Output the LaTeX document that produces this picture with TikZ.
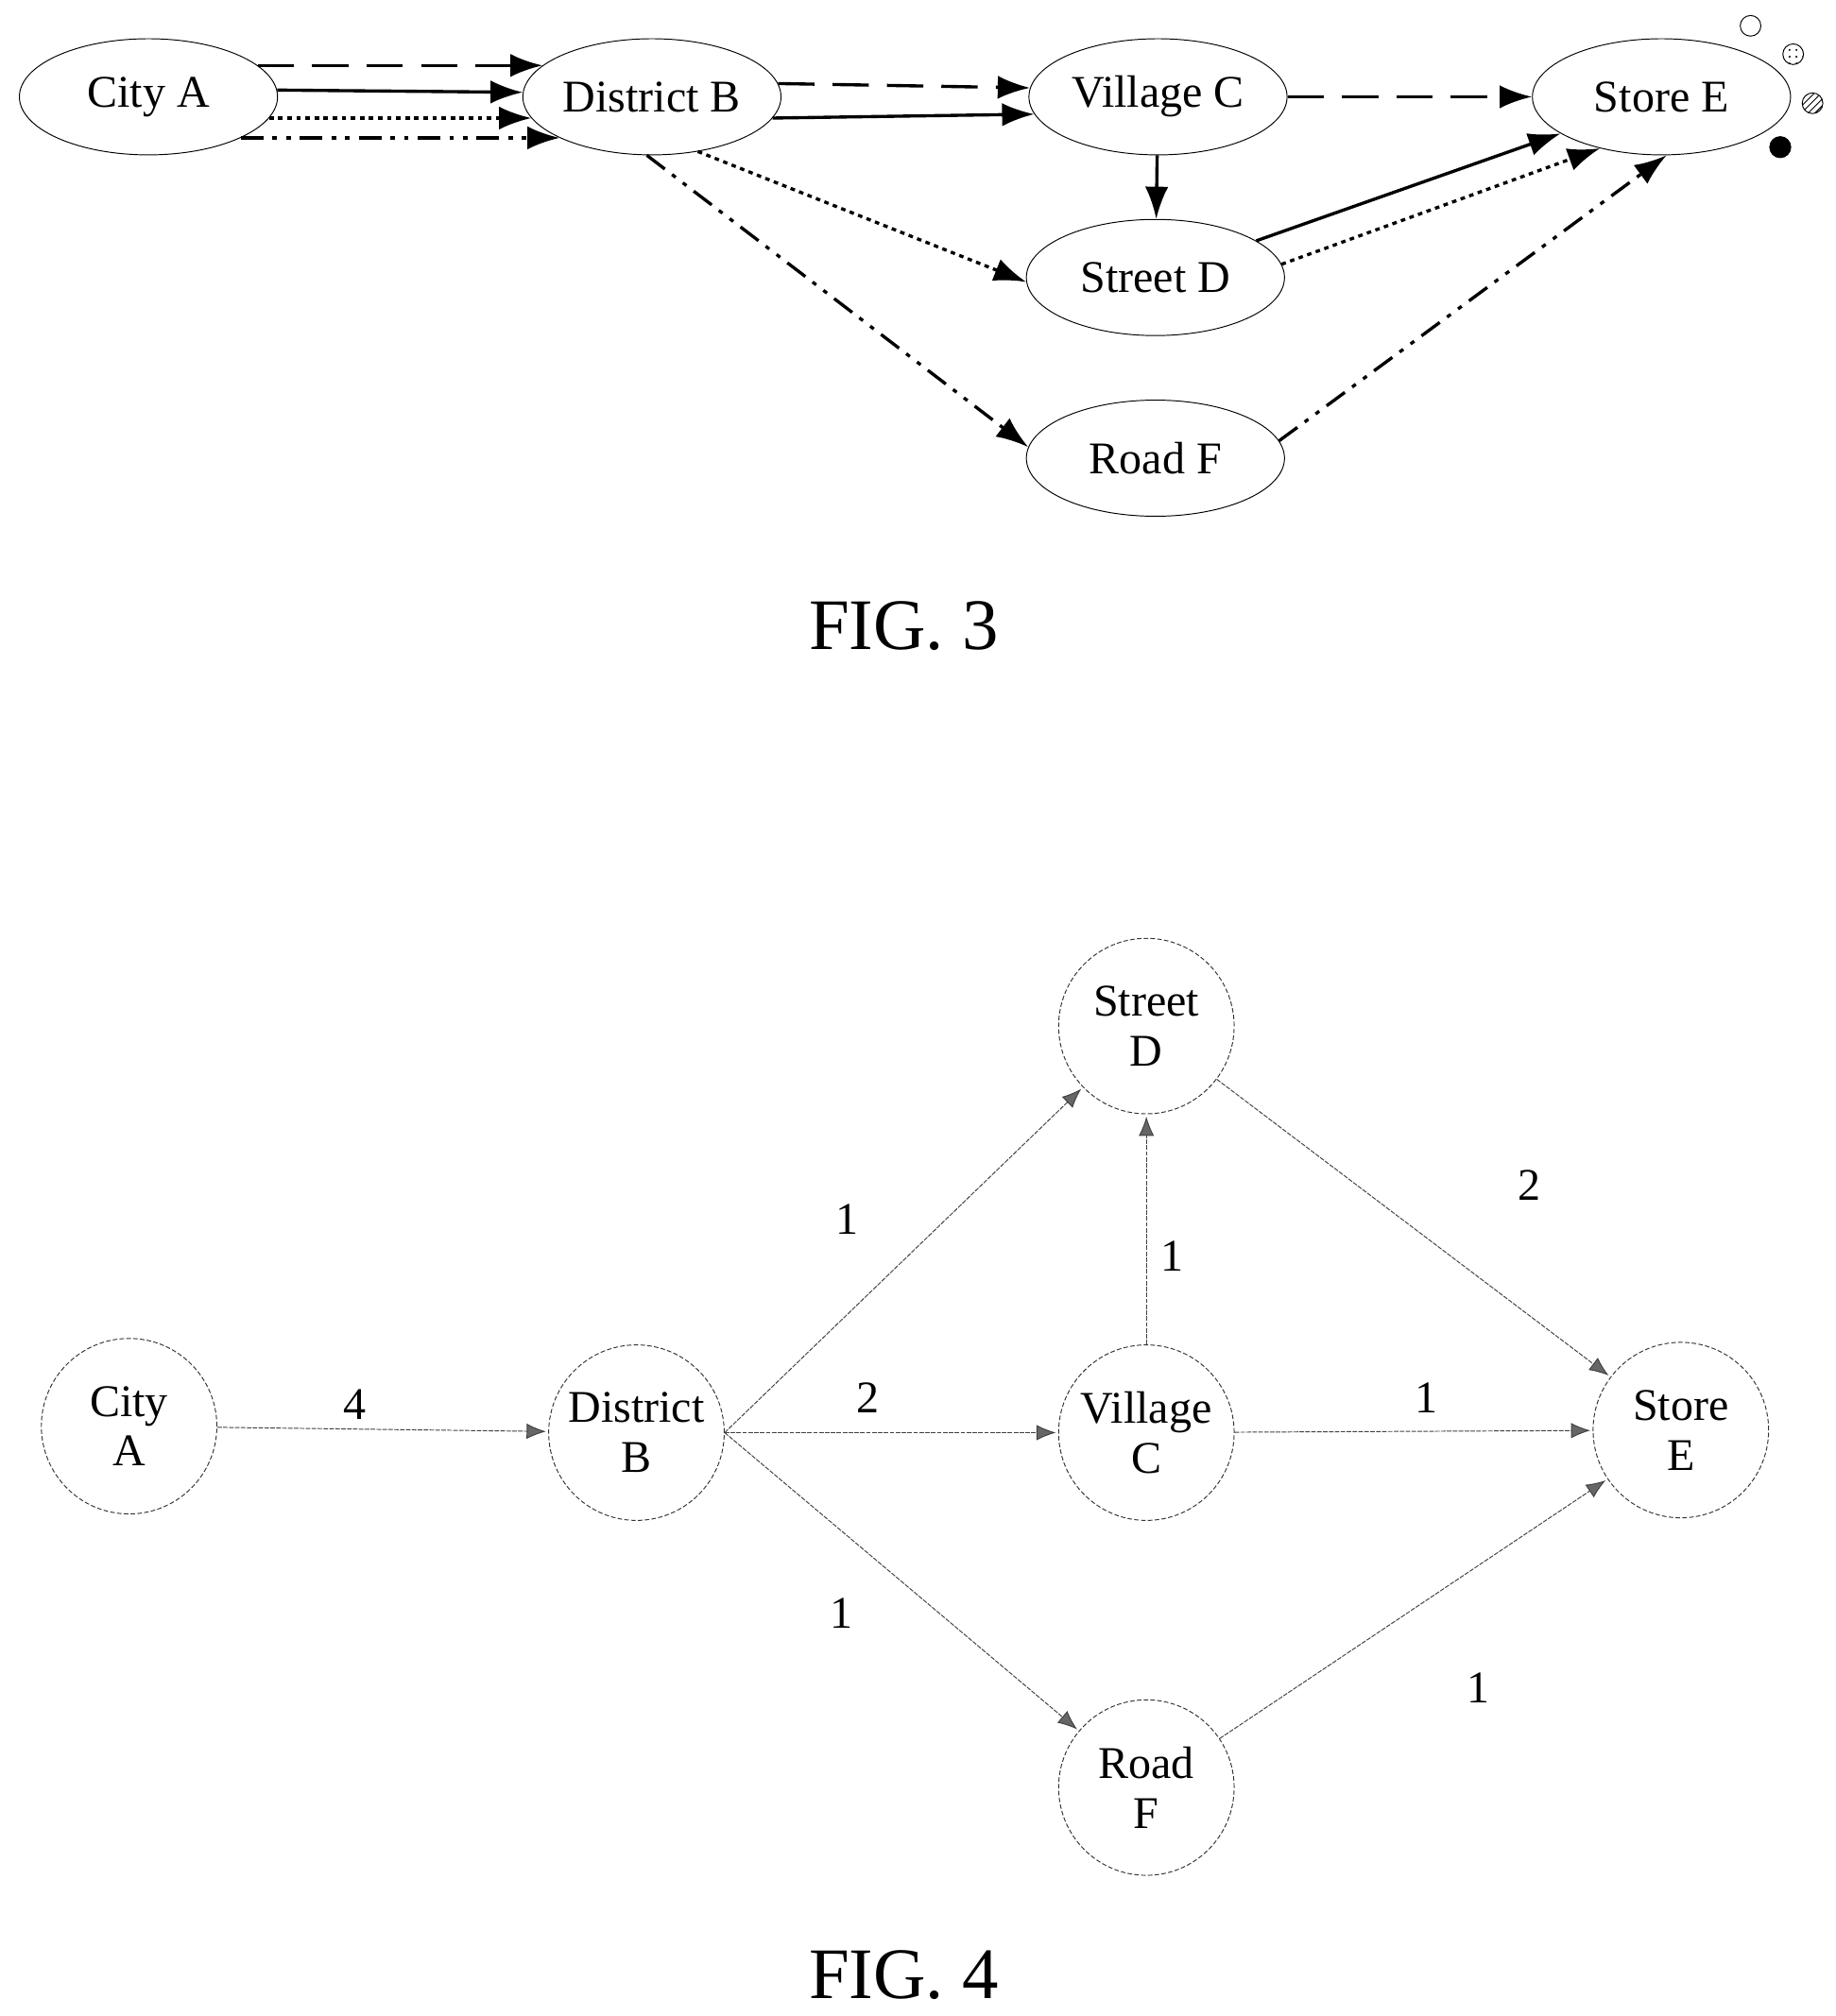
\documentclass[tikz,border=0pt]{standalone}
\usepackage{fontspec}
\setmainfont{Liberation Serif}
\usetikzlibrary{arrows.meta,shapes.geometric,patterns}

\begin{document}
\begin{tikzpicture}[x=0.02cm,y=-0.02cm,>={Latex[length=5mm,width=3.6mm]},
                    line width=1.4pt]
  \tikzstyle{loc}=[ellipse,draw=black,thin,minimum width=4cm,minimum height=1.8cm,
                   inner sep=0pt,font=\fontsize{20}{24}\selectfont]
  \tikzstyle{site}=[circle,draw=black!80,thin,dash pattern=on 2pt off 1pt,
                    minimum size=2.72cm,inner sep=0pt,align=center,
                    font=\fontsize{20}{22}\selectfont]
  \tikzstyle{flow}=[->,thin,draw=black!75,dash pattern=on 2pt off 0.6pt,
                    >={Latex[length=3mm,width=2.4mm,fill=black!60]},shorten >=1pt]
  \tikzstyle{wt}=[font=\fontsize{20}{22}\selectfont]
  \tikzstyle{dsh}=[dash pattern=on 16pt off 8pt]
  \tikzstyle{dots}=[dash pattern=on 2pt off 2pt]
  \tikzstyle{ddot}=[dash pattern=on 10pt off 4pt on 2pt off 4pt on 2pt off 4pt]
  \useasboundingbox (0,0) rectangle (1422,1562);

  % FIG. 3
  \node[loc] (A) at (115,75)  {City A};
  \node[loc] (B) at (505,75)  {District B};
  \node[loc] (C) at (897,75)  {Village C};
  \node[loc] (E) at (1287,75) {Store E};
  \node[loc] (D) at (895,215) {Street D};
  \node[loc] (F) at (895,355) {Road F};

  \draw[->,dsh]   (A.16)  -- (B.164);
  \draw[->]       (A.3)   -- (B.178);
  \draw[->,dots]  (A.-10) -- (B.-170);
  \draw[->,ddot]  (A.-24) -- (B.-156);
  \draw[->,dsh]   (B.6)   -- (C.176);
  \draw[->]       (B.-10) -- (C.-172);
  \draw[->,dsh]   (C)     -- (E);
  \draw[->]       (C)     -- (D);
  \draw[->,dots]  (B.-50) -- (D.182);
  \draw[->]       (D.20)  -- (E.-160);
  \draw[->,dots]  (D.6)   -- (E.-140);
  \draw[->,ddot]  (B.-95) -- (F.175);
  \draw[->,ddot]  (F.8)   -- (E.-85);

  \node[circle,draw,thin,minimum size=0.32cm,inner sep=0pt] (l1) at (1356,20) {};
  \node[circle,draw,thin,minimum size=0.32cm,inner sep=0pt,pattern=dots] (l2) at (1389,42) {};
  \node[circle,draw,thin,minimum size=0.32cm,inner sep=0pt,pattern=north east lines] (l3) at (1404,80) {};
  \node[circle,fill=black,minimum size=0.34cm,inner sep=0pt] (l4) at (1379,114) {};

  \node[font=\fontsize{32}{38}\selectfont] (fig3) at (700,485) {FIG. 3};

  % FIG. 4
  \node[site] (a) at (100,1105)  {City\\A};
  \node[site] (b) at (493,1110)  {District\\B};
  \node[site] (c) at (888,1110)  {Village\\C};
  \node[site] (d) at (888,795)   {Street\\D};
  \node[site] (e) at (1302,1108) {Store\\E};
  \node[site] (f) at (888,1385)  {Road\\F};

  \draw[flow] (a) -- (b);
  \draw[flow] (b.east) -- (d);
  \draw[flow] (b.east) -- (c);
  \draw[flow] (b.east) -- (f);
  \draw[flow] (c) -- (d);
  \draw[flow] (c) -- (e);
  \draw[flow] (d) -- (e);
  \draw[flow] (f) -- (e);

  \node[wt] (w1) at (275,1088)  {4};
  \node[wt] (w2) at (672,1083)  {2};
  \node[wt] (w3) at (656,945)   {1};
  \node[wt] (w4) at (908,973)   {1};
  \node[wt] (w5) at (1185,918)  {2};
  \node[wt] (w6) at (1105,1083) {1};
  \node[wt] (w7) at (652,1250)  {1};
  \node[wt] (w8) at (1145,1308) {1};

  \node[font=\fontsize{32}{38}\selectfont] (fig4) at (700,1530) {FIG. 4};
\end{tikzpicture}
\end{document}
